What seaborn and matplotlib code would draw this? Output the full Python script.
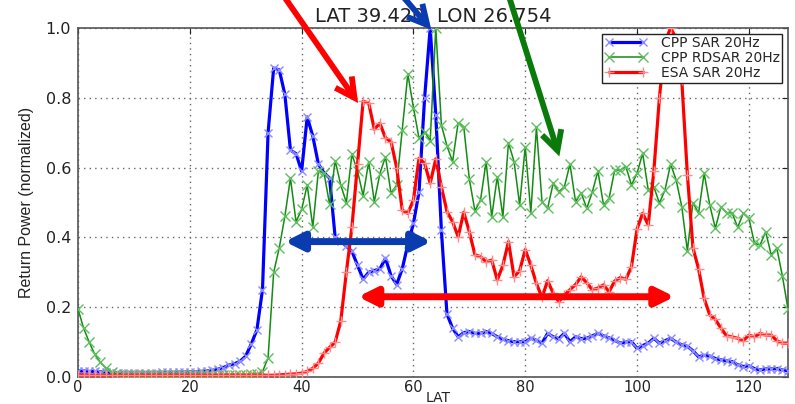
import numpy as np
import matplotlib
matplotlib.use("Agg")
import matplotlib.pyplot as plt
import seaborn as sns

# ---- data ----
lat = list(range(128))

cpp_sar = [
    0.017, 0.017, 0.016, 0.016, 0.015, 0.014, 0.013, 0.012, 0.012, 0.012,
    0.011, 0.011, 0.012, 0.012, 0.012, 0.013, 0.013, 0.013, 0.014, 0.014,
    0.015, 0.015, 0.016, 0.017, 0.019, 0.022, 0.027, 0.034, 0.038, 0.045,
    0.060, 0.095, 0.135, 0.250, 0.700, 0.885, 0.880, 0.810, 0.650, 0.640,
    0.590, 0.745, 0.690, 0.610, 0.585, 0.570, 0.400, 0.390, 0.375, 0.360,
    0.320, 0.280, 0.300, 0.305, 0.310, 0.340, 0.290, 0.265, 0.310, 0.380,
    0.440, 0.530, 0.800, 1.000, 0.750, 0.420, 0.180, 0.140, 0.115, 0.127,
    0.130, 0.125, 0.125, 0.130, 0.125, 0.115, 0.108, 0.104, 0.101, 0.101,
    0.101, 0.111, 0.105, 0.097, 0.125, 0.115, 0.110, 0.125, 0.101, 0.115,
    0.110, 0.111, 0.118, 0.125, 0.118, 0.112, 0.105, 0.097, 0.100, 0.101,
    0.082, 0.090, 0.097, 0.111, 0.097, 0.104, 0.111, 0.100, 0.092, 0.088,
    0.075, 0.058, 0.062, 0.060, 0.053, 0.049, 0.046, 0.044, 0.035, 0.030,
    0.032, 0.024, 0.020, 0.023, 0.023, 0.024, 0.020, 0.018,
]

cpp_rdsar = [
    0.195, 0.140, 0.100, 0.065, 0.042, 0.025, 0.013, 0.008, 0.007, 0.007,
    0.006, 0.007, 0.007, 0.006, 0.007, 0.007, 0.006, 0.007, 0.007, 0.007,
    0.006, 0.007, 0.007, 0.007, 0.006, 0.007, 0.007, 0.007, 0.007, 0.007,
    0.007, 0.008, 0.008, 0.015, 0.055, 0.300, 0.370, 0.460, 0.570, 0.445,
    0.480, 0.550, 0.430, 0.590, 0.585, 0.495, 0.620, 0.550, 0.500, 0.638,
    0.590, 0.520, 0.617, 0.502, 0.583, 0.631, 0.526, 0.550, 0.708, 0.868,
    0.772, 0.684, 0.703, 0.677, 1.000, 0.722, 0.662, 0.617, 0.729, 0.717,
    0.567, 0.476, 0.507, 0.617, 0.459, 0.574, 0.459, 0.671, 0.617, 0.493,
    0.660, 0.471, 0.715, 0.502, 0.483, 0.555, 0.531, 0.545, 0.610, 0.502,
    0.528, 0.483, 0.530, 0.590, 0.493, 0.512, 0.593, 0.593, 0.603, 0.550,
    0.584, 0.641, 0.536, 0.545, 0.498, 0.536, 0.610, 0.564, 0.488, 0.362,
    0.500, 0.469, 0.584, 0.493, 0.426, 0.488, 0.471, 0.470, 0.429, 0.469,
    0.455, 0.383, 0.378, 0.416, 0.350, 0.369, 0.289, 0.195,
]

esa_sar = [
    0.006, 0.006, 0.005, 0.005, 0.005, 0.005, 0.005, 0.005, 0.005, 0.005,
    0.005, 0.005, 0.005, 0.005, 0.005, 0.005, 0.005, 0.005, 0.005, 0.005,
    0.005, 0.005, 0.005, 0.005, 0.005, 0.005, 0.005, 0.005, 0.005, 0.005,
    0.005, 0.005, 0.005, 0.005, 0.005, 0.005, 0.006, 0.007, 0.008, 0.009,
    0.011, 0.016, 0.025, 0.040, 0.068, 0.085, 0.100, 0.160, 0.300, 0.430,
    0.610, 0.790, 0.785, 0.710, 0.727, 0.685, 0.674, 0.600, 0.478, 0.469,
    0.507, 0.627, 0.612, 0.555, 0.625, 0.545, 0.474, 0.445, 0.402, 0.472,
    0.416, 0.350, 0.345, 0.330, 0.335, 0.278, 0.320, 0.388, 0.287, 0.305,
    0.365, 0.320, 0.268, 0.228, 0.276, 0.240, 0.216, 0.235, 0.250, 0.265,
    0.287, 0.270, 0.250, 0.255, 0.264, 0.244, 0.275, 0.285, 0.280, 0.316,
    0.424, 0.469, 0.436, 0.590, 0.800, 0.960, 1.000, 0.970, 0.850, 0.580,
    0.370, 0.310, 0.225, 0.178, 0.165, 0.140, 0.118, 0.115, 0.111, 0.104,
    0.120, 0.115, 0.125, 0.120, 0.120, 0.104, 0.097, 0.097,
]

series_labels = ["CPP SAR 20Hz", "CPP RDSAR 20Hz", "ESA SAR 20Hz"]
title_text = "LAT 39.420  LON 26.754"
x_ticks = [0, 20, 40, 60, 80, 100, 120]
y_ticks = [0.0, 0.2, 0.4, 0.6, 0.8, 1.0]

# ---- style ----
sns.set_style("white")
plt.rcParams["font.family"] = ["DejaVu Sans"]

fig = plt.figure(figsize=(7.95, 4.04), dpi=100)
ax = fig.add_axes([78 / 795, 1 - 377 / 404, 710 / 795, 349 / 404])

sns.lineplot(x=lat, y=cpp_sar, ax=ax, color="#0000ff", linewidth=2.3,
             marker="x", markersize=6, markeredgecolor="#8c8cff",
             markeredgewidth=1.0, label=series_labels[0], zorder=3)
sns.lineplot(x=lat, y=cpp_rdsar, ax=ax, color="#138c13", linewidth=1.1,
             marker="x", markersize=7, markeredgecolor="#5fbf5f",
             markeredgewidth=1.0, label=series_labels[1], zorder=3)
sns.lineplot(x=lat, y=esa_sar, ax=ax, color="#ff0000", linewidth=2.3,
             marker="+", markersize=7, markeredgecolor="#ff8a8a",
             markeredgewidth=1.0, label=series_labels[2], zorder=3)

ax.set_xlim(0, 127)
ax.set_ylim(0, 1.0)
ax.set_xticks(x_ticks)
ax.set_yticks(y_ticks)
ax.set_xticklabels([str(t) for t in x_ticks])
ax.set_yticklabels([f"{t:.1f}" for t in y_ticks])
ax.tick_params(direction="in", length=4, width=0.8, top=True, right=True,
               colors="#222222")
ax.tick_params(axis="x", pad=2, labelsize=10.5)
ax.tick_params(axis="y", pad=5, labelsize=11.5)
ax.grid(True, linestyle=(0, (1, 3)), color="#666666", linewidth=1.0)
for sp in ax.spines.values():
    sp.set_color("#555555")
    sp.set_linewidth(1.2)

ax.set_xlabel("LAT", fontsize=10, color="#222222", va="baseline")
ax.xaxis.set_label_coords(0.507, -(402 - 377) / 349)
ax.set_ylabel("Return Power (normalized)", fontsize=11.5,
              family=["Liberation Sans Narrow", "Liberation Sans", "DejaVu Sans"],
              labelpad=8, color="#222222")
ax.set_title(title_text, fontsize=14, x=0.5, pad=4, color="#222222")

leg = ax.legend(loc="upper right", fontsize=10, frameon=True, fancybox=False,
                edgecolor="#222222", framealpha=1, numpoints=2,
                handlelength=3.0, handletextpad=1.0, borderaxespad=0.4,
                labelspacing=0.05, borderpad=0.2)
leg.get_frame().set_linewidth(1.0)

# ---- annotation arrows ----
def open_arrow(tail, tip, color):
    ax.annotate("", xy=tip, xytext=tail, xycoords="data", textcoords="data",
                annotation_clip=False,
                arrowprops=dict(arrowstyle="->,head_length=1.15,head_width=0.6",
                                mutation_scale=12, lw=4.2, color=color,
                                shrinkA=0, shrinkB=0, capstyle="butt",
                                joinstyle="miter"), zorder=6)

open_arrow((36.0, 1.11), (50.1, 0.785), "#ff0000")
open_arrow((57.6, 1.10), (63.2, 0.995), "#0a3cb0")
open_arrow((76.9, 1.10), (86.1, 0.632), "#0a7a0a")

def double_arrow(x0, x1, y, color):
    ax.annotate("", xy=(x1, y), xytext=(x0, y), xycoords="data",
                textcoords="data", annotation_clip=False,
                arrowprops=dict(arrowstyle="<|-|>,head_length=0.9,head_width=0.45",
                                mutation_scale=12, lw=5, color=color,
                                shrinkA=0, shrinkB=0), zorder=6)

double_arrow(37.0, 63.2, 0.388, "#0a3cb0")
double_arrow(50.1, 106.7, 0.230, "#ff0000")

fig.savefig("out.png", dpi=100)
